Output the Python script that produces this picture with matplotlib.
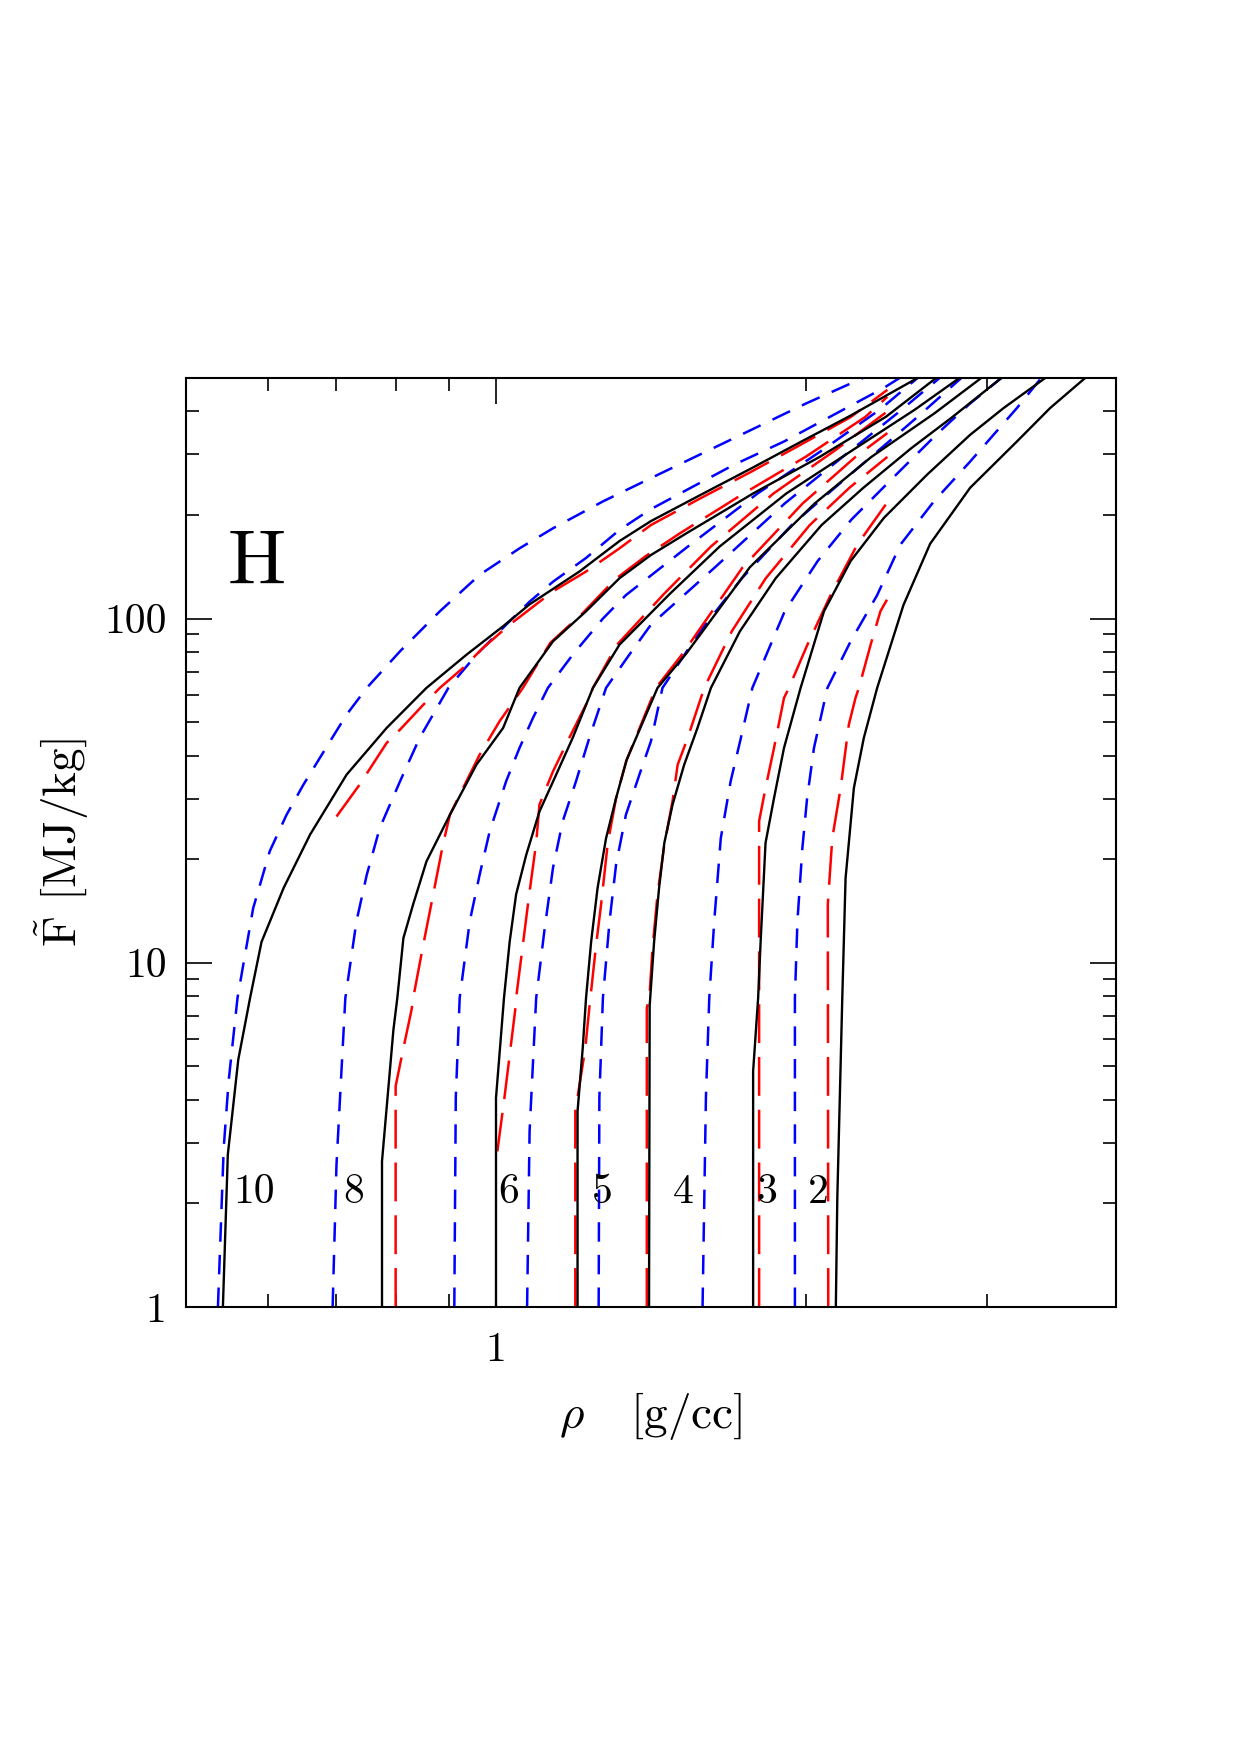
import matplotlib
matplotlib.use("Agg")
import matplotlib.pyplot as plt
from matplotlib.ticker import FixedLocator, FixedFormatter, NullFormatter, LogLocator

# curve labels
labels = ["10", "8", "6", "5", "4", "3", "2"]
label_rho = [0.583, 0.728, 1.029, 1.268, 1.520, 1.832, 2.055]
label_F = 2.16

# solid black curves (rho [g/cc], F [MJ/kg])
black_rho = [
    [0.543, 0.549, 0.562, 0.577, 0.592, 0.622, 0.660, 0.716, 0.783, 0.856, 0.936, 1.016, 1.078, 1.205, 1.318, 1.414, 1.581, 1.769, 1.976, 2.210, 2.566],
    [0.775, 0.775, 0.795, 0.802, 0.813, 0.831, 0.856, 0.902, 0.957, 1.016, 1.054, 1.136, 1.223, 1.318, 1.414, 1.531, 1.777, 2.062, 2.392, 2.675],
    [1.000, 1.000, 1.012, 1.018, 1.031, 1.046, 1.070, 1.102, 1.144, 1.187, 1.242, 1.318, 1.475, 1.649, 1.914, 2.221, 2.549, 2.818],
    [1.200, 1.200, 1.214, 1.223, 1.237, 1.255, 1.279, 1.308, 1.339, 1.435, 1.531, 1.764, 2.039, 2.315, 2.666, 2.959],
    [1.408, 1.410, 1.424, 1.440, 1.457, 1.484, 1.523, 1.569, 1.617, 1.725, 1.869, 2.071, 2.274, 2.532, 2.768, 3.095],
    [1.777, 1.777, 1.797, 1.807, 1.827, 1.862, 1.904, 1.976, 2.082, 2.210, 2.380, 2.622, 2.887, 3.111, 3.414],
    [2.138, 2.145, 2.169, 2.185, 2.226, 2.276, 2.345, 2.487, 2.640, 2.887, 3.205, 3.452, 3.733],
]
black_F = [
    [1, 2.77, 5.23, 7.9, 11.5, 16.5, 23.6, 35.2, 48.1, 62.9, 78.5, 95, 110, 137, 168, 192, 229, 273, 326, 389, 500],
    [1, 2.65, 6.38, 7.9, 11.8, 14.8, 19.7, 26.9, 37.6, 48.1, 62.9, 85.9, 105, 131, 153, 177, 231, 295, 386, 500],
    [1, 4.05, 6.32, 7.9, 11.5, 15.8, 20.6, 27.5, 35.2, 45.0, 62.9, 84.0, 118, 162, 231, 309, 404, 500],
    [1, 3.7, 5.65, 7.9, 11.5, 16.5, 23.0, 30.1, 38.8, 62.9, 79.3, 141, 216, 295, 395, 500],
    [1, 7.5, 11.5, 16.5, 22.3, 28.8, 37.6, 48.1, 62.9, 91.8, 131, 187, 240, 313, 383, 500],
    [1, 4.84, 7.9, 11.5, 22.3, 30.1, 42.1, 62.9, 105, 147, 196, 262, 342, 409, 500],
    [1, 2.07, 7.9, 17.6, 32.2, 45.0, 62.9, 109.5, 165, 240, 327, 409, 500],
]

# short-dashed blue curves
blue_rho = [
    [0.537, 0.544, 0.550, 0.561, 0.581, 0.603, 0.626, 0.650, 0.690, 0.716, 0.749, 0.807, 0.882, 0.964, 1.054, 1.136, 1.270, 1.414, 1.687, 2.001, 2.271],
    [0.694, 0.700, 0.714, 0.732, 0.749, 0.771, 0.807, 0.843, 0.899, 0.957, 1.023, 1.078, 1.136, 1.223, 1.318, 1.414, 1.546, 1.703, 1.904, 2.128, 2.380, 2.465],
    [0.911, 0.914, 0.922, 0.943, 0.964, 0.986, 1.023, 1.054, 1.086, 1.123, 1.187, 1.270, 1.337, 1.536, 1.795, 2.076, 2.357, 2.566],
    [1.072, 1.078, 1.094, 1.115, 1.136, 1.161, 1.196, 1.232, 1.279, 1.347, 1.414, 1.632, 1.907, 2.171, 2.453, 2.696],
    [1.258, 1.260, 1.270, 1.289, 1.308, 1.337, 1.378, 1.414, 1.451, 1.578, 1.733, 1.937, 2.133, 2.367, 2.560, 2.830],
    [1.587, 1.599, 1.611, 1.629, 1.653, 1.690, 1.729, 1.774, 1.907, 2.053, 2.214, 2.453, 2.684, 2.882, 3.095],
    [1.951, 1.951, 1.962, 1.984, 2.005, 2.036, 2.098, 2.210, 2.345, 2.470, 2.662, 2.887, 3.205, 3.384],
]
blue_F = [
    [1, 2.90, 4.53, 7.9, 14.4, 21.1, 26.9, 32.9, 44.0, 52.6, 62.9, 80.4, 105, 134, 160, 183, 219, 256, 330, 422, 500],
    [1, 2.59, 7.9, 13.2, 18.0, 24.6, 33.7, 45.0, 62.9, 78.5, 96, 112, 128, 150, 181, 208, 240, 280, 327, 391, 468, 500],
    [1, 4.05, 7.9, 13.2, 18.0, 24.1, 33.7, 42.1, 51.4, 62.9, 78.5, 100, 117, 162, 231, 309, 404, 500],
    [1, 3.24, 7.9, 12.6, 18.9, 25.8, 33.7, 45.0, 62.9, 78.5, 96, 141, 216, 295, 395, 500],
    [1, 4.05, 7.9, 13.2, 19.3, 26.9, 35.2, 44.0, 62.9, 91.8, 131, 187, 240, 313, 383, 500],
    [1, 4.07, 7.9, 13.2, 23.0, 33.7, 45.0, 62.9, 105, 147, 194, 264, 345, 420, 500],
    [1, 7.9, 13.2, 21.6, 30.1, 42.1, 62.9, 85.9, 117, 164, 219, 286, 409, 500],
]

# long-dashed red curves
red_rho = [
    [0.700, 0.737, 0.783, 0.807, 0.850, 0.882, 0.929, 0.971, 1.031, 1.136, 1.223, 1.318, 1.414, 1.581, 1.769, 1.976, 2.210, 2.399],
    [0.799, 0.799, 0.813, 0.828, 0.831, 0.850, 0.869, 0.888, 0.902, 0.929, 0.964, 1.008, 1.062, 1.129, 1.215, 1.305, 1.398, 1.509, 1.740, 1.998, 2.285, 2.399],
    [1.003, 1.019, 1.044, 1.046, 1.062, 1.078, 1.094, 1.102, 1.136, 1.178, 1.232, 1.242, 1.311, 1.456, 1.617, 1.860, 2.137, 2.399],
    [1.194, 1.194, 1.221, 1.232, 1.251, 1.265, 1.284, 1.308, 1.339, 1.430, 1.519, 1.736, 1.985, 2.234, 2.399],
    [1.401, 1.401, 1.409, 1.419, 1.435, 1.457, 1.484, 1.501, 1.535, 1.593, 1.694, 1.828, 2.017, 2.204, 2.399],
    [1.801, 1.801, 1.827, 1.862, 1.904, 1.925, 2.005, 2.113, 2.243, 2.397],
    [2.102, 2.100, 2.121, 2.161, 2.201, 2.234, 2.251, 2.311, 2.362, 2.397],
]
red_F = [
    [26.6, 32.9, 43.5, 47.6, 56.2, 62.9, 71.9, 82.1, 96.0, 120, 137, 160, 187, 224, 267, 320, 385, 462],
    [1, 4.38, 5.65, 7.31, 7.9, 11.3, 15.8, 22.0, 26.9, 32.2, 40.2, 50.3, 62.9, 85, 104, 130, 152, 177, 231, 295, 386, 441],
    [2.83, 4.05, 7.31, 7.9, 11.3, 16.1, 22.3, 28.8, 36.0, 45.0, 58.8, 62.9, 84, 118, 162, 231, 309, 400],
    [1, 3.7, 5.65, 7.39, 11.3, 14.8, 22.3, 30.1, 38.8, 62.9, 79.3, 141, 216, 295, 346],
    [1, 7.4, 7.9, 11.0, 15.8, 22.0, 29.5, 37.6, 45.0, 62.9, 91.8, 131, 187, 240, 295],
    [1, 25.8, 32.2, 42.1, 58.8, 62.9, 83.6, 117, 164, 217],
    [1, 14.8, 23.0, 32.2, 49.2, 58.8, 62.9, 84.0, 105, 113.5],
]

plt.rcParams["mathtext.fontset"] = "cm"
plt.rcParams["font.family"] = "serif"
plt.rcParams["font.serif"] = ["cmr10"]
plt.rcParams["axes.formatter.use_mathtext"] = True
plt.rcParams["lines.scale_dashes"] = False

fig = plt.figure(figsize=(12.4, 17.55), dpi=100)
ax = fig.add_axes([0.15, 0.2553, 0.75, 0.5293])

for r, f in zip(blue_rho, blue_F):
    ax.plot(r, f, color="#0000ff", lw=1.8, linestyle=(0, (14, 9.5)))
for r, f in zip(red_rho, red_F):
    ax.plot(r, f, color="#ff0000", lw=1.8, linestyle=(0, (28, 10)))
for r, f in zip(black_rho, black_F):
    ax.plot(r, f, color="black", lw=1.7)

ax.set_xscale("log")
ax.set_yscale("log")
ax.set_xlim(0.5, 4)
ax.set_ylim(1, 500)

ax.xaxis.set_major_locator(FixedLocator([1]))
ax.xaxis.set_major_formatter(FixedFormatter(["1"]))
ax.xaxis.set_minor_locator(LogLocator(base=10, subs=range(2, 10)))
ax.xaxis.set_minor_formatter(NullFormatter())
ax.yaxis.set_major_locator(FixedLocator([1, 10, 100]))
ax.yaxis.set_major_formatter(FixedFormatter(["1", "10", "100"]))
ax.yaxis.set_minor_locator(LogLocator(base=10, subs=range(2, 10)))
ax.yaxis.set_minor_formatter(NullFormatter())

ax.tick_params(which="both", direction="in", top=True, right=True, width=1.2, colors="black")
ax.tick_params(which="major", length=19, labelsize=30)
ax.tick_params(axis="x", which="major", pad=18)
ax.tick_params(axis="y", which="major", pad=14)
ax.tick_params(which="minor", length=9.5)
for s in ax.spines.values():
    s.set_linewidth(1.5)

for lab, r in zip(labels, label_rho):
    ax.text(r, label_F, lab, ha="center", va="center", fontsize=30)

ax.text(0.076, 0.80, "H", transform=ax.transAxes, ha="center", va="center", fontsize=56)

ax.set_xlabel(r"$\rho$   [g/cc]", fontsize=34)
ax.set_ylabel(r"$\tilde{\mathrm{F}}$ [MJ/kg]", fontsize=34)
ax.xaxis.set_label_coords(0.5, -0.117)
ax.xaxis.label.set_va("center")
ax.yaxis.set_label_coords(-0.133, 0.5)
ax.yaxis.label.set_va("center")

fig.savefig("out.png", dpi=100)
